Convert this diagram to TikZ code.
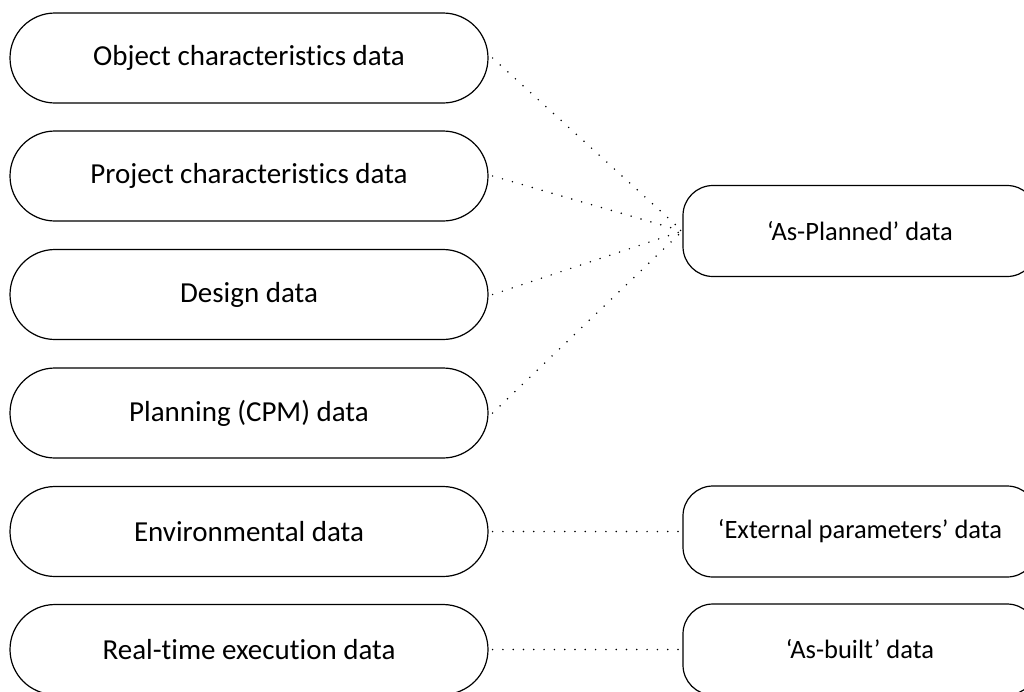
\documentclass[tikz,border=0pt]{standalone}
\usepackage{fontspec}
\setmainfont{Carlito}[Ligatures=NoCommon]
\usetikzlibrary{shapes.misc}
\begin{document}
\begin{tikzpicture}[x=1pt,y=-1pt,
  source/.style={draw=black, line width=1.2pt, rounded rectangle,
    minimum width=478pt, minimum height=90pt, inner sep=0pt,
    font=\fontsize{29}{35}\selectfont},
  target/.style={draw=black, line width=1.2pt, rectangle, rounded corners=30pt,
    minimum width=354pt, minimum height=91pt, inner sep=0pt,
    font=\fontsize{26.5}{32}\selectfont},
  dotline/.style={line width=1.7pt, line cap=round, dash pattern=on 0pt off 10.3pt}]
\useasboundingbox (0,0) rectangle (1024,691);
\clip (0,0) rectangle (1024,691);
\fill[white] (0,0) rectangle (1024,691);

% input data sources
\node[source] (obj)  at (249,58)    {Object characteristics data};
\node[source] (proj) at (249,176)   {Project characteristics data};
\node[source] (des)  at (249,294.5) {Design data};
\node[source] (plan) at (249,413)   {Planning (CPM) data};
\node[source] (env)  at (249,531.5) {Environmental data};
\node[source] (rt)   at (249,649.5) {Real-time execution data};

% resulting data categories
\node[target] (asp) at (860,231)   {‘As-Planned’ data};
\node[target] (ext) at (860,531.5) {‘External parameters’ data};
\node[target] (asb) at (860,649.5) {‘As-built’ data};

% links
\foreach \s in {obj,proj,des,plan}
  \draw[dotline] ([xshift=4pt]\s.east) -- (asp.west);
\draw[dotline] ([xshift=4pt]env.east) -- (ext.west);
\draw[dotline] ([xshift=4pt]rt.east) -- (asb.west);
\end{tikzpicture}
\end{document}
